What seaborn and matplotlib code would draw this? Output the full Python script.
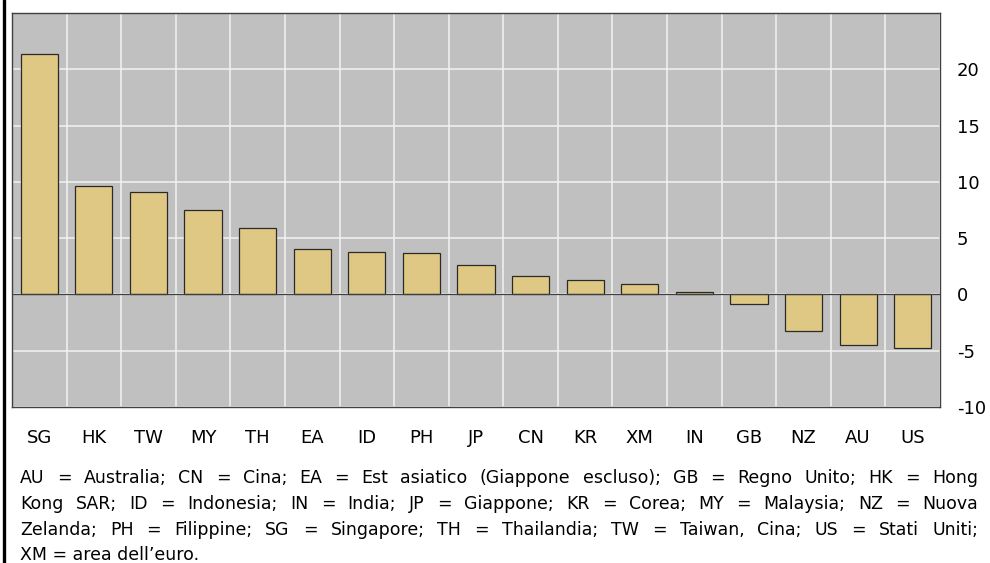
import numpy as np
import pandas as pd
import matplotlib
matplotlib.use('Agg')
import matplotlib.pyplot as plt
import seaborn as sns
from matplotlib.lines import Line2D

# Data
paesi = ['SG', 'HK', 'TW', 'MY', 'TH', 'EA', 'ID', 'PH', 'JP', 'CN', 'KR', 'XM', 'IN', 'GB', 'NZ', 'AU', 'US']
valori = [21.4, 9.65, 9.1, 7.5, 5.9, 4.0, 3.8, 3.7, 2.65, 1.6, 1.3, 0.9, 0.2, -0.85, -3.25, -4.5, -4.8]
y_ticks = [-10, -5, 0, 5, 10, 15, 20]

note = [
    "AU = Australia; CN = Cina; EA = Est asiatico (Giappone escluso); GB = Regno Unito; HK = Hong",
    "Kong SAR; ID = Indonesia; IN = India; JP = Giappone; KR = Corea; MY = Malaysia; NZ = Nuova",
    "Zelanda; PH = Filippine; SG = Singapore; TH = Thailandia; TW = Taiwan, Cina; US = Stati Uniti;",
    "XM = area dell\u2019euro.",
]

df = pd.DataFrame({'Paese': paesi, 'Valore': valori})

sns.set_style('white')
plt.rcParams['font.family'] = ['DejaVu Sans']
plt.rcParams['axes.unicode_minus'] = False
plt.rcParams['text.color'] = 'black'
plt.rcParams['xtick.color'] = 'black'
plt.rcParams['ytick.color'] = 'black'

fig = plt.figure(figsize=(9.9, 5.63), dpi=100)
ax = fig.add_axes([12 / 990, 156 / 563, 928 / 990, 394 / 563])
ax.set_facecolor('#C0C0C0')

sns.barplot(data=df, x='Paese', y='Valore', order=paesi, color='#DFC883',
            saturation=1, edgecolor='#2a2a2a', linewidth=0.9, width=0.68, ax=ax)

ax.set_xlim(-0.5, len(paesi) - 0.5)
ax.set_ylim(-10, 25)
ax.set_yticks(y_ticks)
ax.set_xticks(np.arange(len(paesi)) + 0.5, minor=True)

# white grid lines: horizontal on the y ticks, vertical between the bars
ax.grid(which='major', axis='y', color='#F2F2F2', linewidth=1.1)
ax.grid(which='minor', axis='x', color='#F2F2F2', linewidth=1.1)
ax.grid(which='major', axis='x', visible=False)
ax.set_axisbelow(True)
ax.axhline(0, color='#404040', linewidth=0.9, zorder=1.5)

ax.yaxis.tick_right()
ax.tick_params(axis='y', length=0, pad=12, labelsize=13, labelcolor='black')
ax.tick_params(axis='x', which='both', length=0, pad=16, labelsize=13, labelcolor='black')
ax.set_xlabel('')
ax.set_ylabel('')
for s in ax.spines.values():
    s.set_color('#404040')
    s.set_linewidth(1.0)

# black border on the left side of the figure
fig.add_artist(Line2D([3.5 / 990, 3.5 / 990], [0, 1], color='black', linewidth=2.4,
                      transform=fig.transFigure))

# justified footnote
fig.canvas.draw()
renderer = fig.canvas.get_renderer()
x_left, x_right = 20, 978
righe_y = [478, 504, 530, 555]
for i, (riga, yp) in enumerate(zip(note, righe_y)):
    yf = 1 - yp / 563
    if i == len(note) - 1:
        fig.text(x_left / 990, yf, riga, fontsize=12.5, va='center', ha='left', color='black')
        continue
    parole = riga.split(' ')
    testi = [fig.text(0, yf, p, fontsize=12.5, va='center', ha='left', color='black')
             for p in parole]
    larghezze = [t.get_window_extent(renderer).width for t in testi]
    gap = (x_right - x_left - sum(larghezze)) / (len(parole) - 1)
    x = x_left
    for t, w in zip(testi, larghezze):
        t.set_x(x / 990)
        x += w + gap

fig.savefig('out.png', dpi=100)
